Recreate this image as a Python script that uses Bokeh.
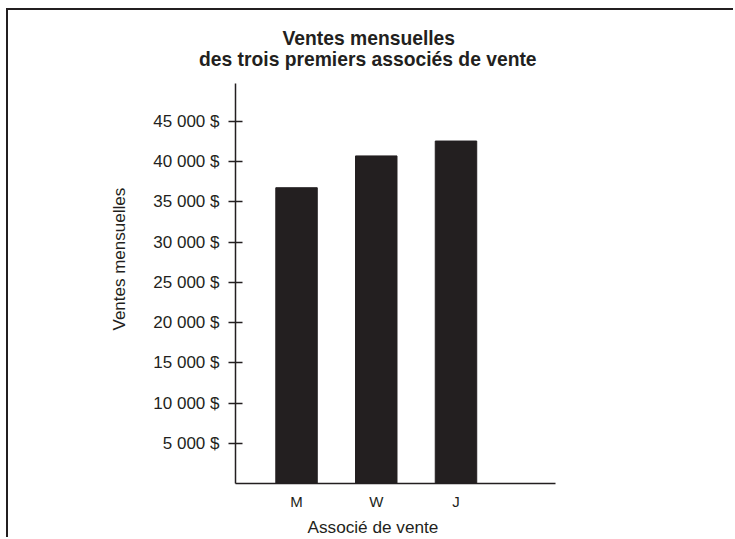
from bokeh.plotting import figure
from bokeh.models import Range1d, FixedTicker, Title, ColumnDataSource
from bokeh.embed import file_html
from bokeh.resources import INLINE

# ---- data ----
associates = ["M", "W", "J"]
sales = [36750, 40700, 42550]
y_ticks = [5000, 10000, 15000, 20000, 25000, 30000, 35000, 40000, 45000]
y_tick_labels = ["5 000 $", "10 000 $", "15 000 $", "20 000 $", "25 000 $",
                 "30 000 $", "35 000 $", "40 000 $", "45 000 $"]
title_lines = ["Ventes mensuelles", "des trois premiers associés de vente"]
x_title = "Associé de vente"
y_title = "Ventes mensuelles"

INK = "#231f20"
FONT = "Liberation Sans"

positions = list(range(1, len(associates) + 1))
src = ColumnDataSource(dict(x=positions, top=sales, name=associates))

W, H = 727, 529
p = figure(width=W, height=H, output_backend="svg", toolbar_location=None,
           x_range=Range1d(0.2346, 4.248), y_range=Range1d(0, 49700),
           min_border_left=227, min_border_right=180,
           min_border_top=73, min_border_bottom=56)
p.styles = {"border-top": "2px solid " + INK, "border-left": "2px solid " + INK,
            "margin-left": "6px", "margin-top": "8px"}
p.title.visible = False
p.outline_line_color = None
p.grid.visible = False
p.background_fill_color = "white"
p.border_fill_color = "white"

p.vbar(x="x", top="top", width=0.52, source=src, fill_color=INK, line_color=INK)

# y axis
ya = p.yaxis[0]
ya.ticker = FixedTicker(ticks=y_ticks)
ya.major_label_overrides = {t: l for t, l in zip(y_ticks, y_tick_labels)}
ya.minor_tick_line_color = None
ya.major_tick_in = 7
ya.major_tick_out = 7
ya.major_tick_line_width = 1.5
ya.major_tick_line_color = INK
ya.axis_line_width = 1.5
ya.axis_line_color = INK
ya.major_label_standoff = 9
ya.major_label_text_font = FONT
ya.major_label_text_font_size = "17px"
ya.major_label_text_color = INK

# x axis
xa = p.xaxis[0]
xa.ticker = FixedTicker(ticks=positions)
xa.major_label_overrides = {pos: n for pos, n in zip(positions, associates)}
xa.minor_tick_line_color = None
xa.major_tick_line_color = None
xa.major_tick_in = 0
xa.major_tick_out = 0
xa.axis_line_width = 1.5
xa.axis_line_color = INK
xa.major_label_standoff = 9
xa.major_label_text_font = FONT
xa.major_label_text_font_size = "15px"
xa.major_label_text_color = INK

def ttl(text, size, bold, offset, standoff, loc):
    t = Title(text=text, align="left", offset=offset, standoff=standoff,
              text_font=FONT, text_font_size=size,
              text_font_style="bold" if bold else "normal", text_color=INK)
    p.add_layout(t, loc)

ttl(title_lines[1], "19.3px", True, -36.5, 27, "above")
ttl(title_lines[0], "19.3px", True, 47, -30, "above")
ttl(y_title, "17px", False, 153, 43, "left")
ttl(x_title, "17.2px", False, 72, 5, "below")

open("out.html", "w").write(file_html(p, INLINE))
